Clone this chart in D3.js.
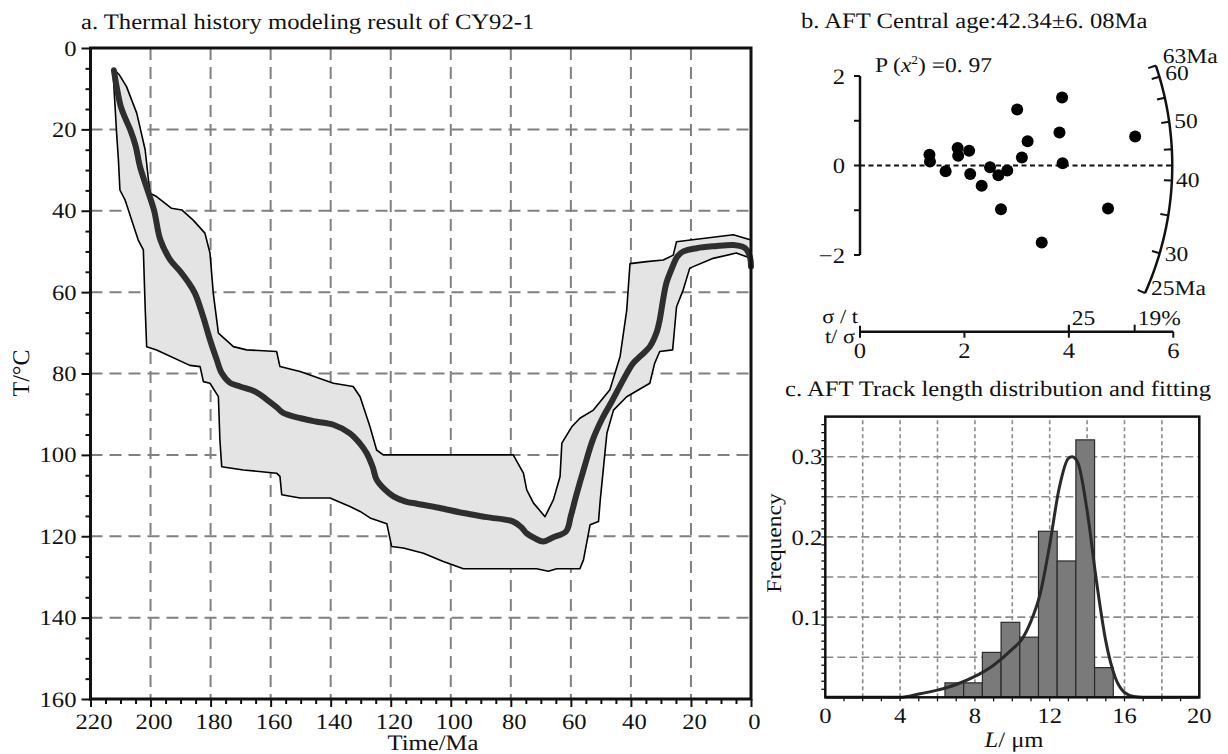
<!DOCTYPE html>
<html>
<head>
<meta charset="utf-8">
<script src="https://cdn.jsdelivr.net/npm/d3@7"></script>
<style>
  body { margin: 0; background: #fff; -webkit-font-smoothing: antialiased; }
  svg text { font-family: "Liberation Serif", "Times New Roman", serif; fill: #111; text-rendering: geometricPrecision; }
</style>
</head>
<body>
<svg id="fig" width="1228" height="754"></svg>
<script>
// ---------- a. thermal history (time in Ma, temperature in °C) ----------
const timeTicks = [220, 200, 180, 160, 140, 120, 100, 80, 60, 40, 20, 0];
const tempTicks = [0, 20, 40, 60, 80, 100, 120, 140, 160];

// best-fit path, oldest to youngest
const bestFit = [
  [212.2, 5.5], [211.3, 9.5], [209.9, 14.4], [208.3, 17.5], [206.8, 20], [205, 24],
  [203.5, 29.2], [201.2, 34.5], [198.8, 40], [196.8, 47], [193.5, 52], [190, 55],
  [187.5, 57.5], [185.2, 60.3], [182.5, 66], [180.2, 71.7], [178, 76.5], [176.3, 79.9],
  [173.5, 82.3], [170.2, 83.2], [165, 84.5], [161.3, 86.4], [158, 88.3], [155.8, 89.7],
  [150, 91], [145, 91.8], [139.1, 92.6], [133.6, 94.7], [130.5, 97], [128, 99.6],
  [126, 103], [124.7, 106.1], [122, 108.5], [119.1, 110.2], [115, 111.5], [111.3, 112],
  [104, 113], [95.8, 114.3], [88, 115.3], [79.2, 116.4], [76.5, 117.8], [74.7, 119.3],
  [72, 120.5], [69.2, 121.3], [66, 120.3], [61.6, 118.8], [60, 115], [58.3, 110.2],
  [55.5, 103], [52.7, 96.3], [49.5, 91], [46.1, 86.5], [42.5, 81.5], [39.3, 77.5],
  [36.5, 75.5], [33.7, 73.4], [31.5, 70], [30.4, 66.8], [29.2, 61.5], [28.2, 57.8],
  [26.1, 53.7], [24.5, 51.2], [22.5, 50], [18.1, 49.2], [12, 48.7], [5.9, 48.4],
  [3, 48.8], [1.4, 49.6], [0.3, 51.5], [0, 53.7]
];

// envelope of acceptable paths: cool edge and hot edge, oldest to youngest
const envelopeCool = [
  [212.5, 5], [210.5, 6.5], [208, 9.5], [204.6, 16], [201.8, 25], [200.2, 35.7],
  [198, 36.5], [193, 39.4], [189.6, 39.8], [185.8, 42.3], [181.9, 45.5], [180.2, 50.4],
  [179.1, 60.3], [177.4, 70.1], [172.4, 73.4], [168, 74.2], [158, 74.6], [156.9, 78.3],
  [150.2, 79.5], [139.1, 82.4], [132.5, 83.2], [130.2, 85.7], [126.9, 93.1], [124.7, 98.8],
  [122.5, 100], [79.2, 100], [75.8, 104.5], [74.7, 108.6], [72.5, 111.8], [68.6, 115.2],
  [65.8, 111], [63.6, 105.3], [63, 97.1], [59.7, 93.1], [57, 91], [52.5, 89], [47, 84],
  [43.6, 75.8], [41.4, 64.5], [40.3, 53], [34.8, 52.5], [29.2, 52.1], [25.9, 50.9],
  [24.8, 47.6], [18.1, 47], [5.9, 45.9], [0, 47.2]
];
const envelopeHot = [
  [212.5, 5], [212.4, 7], [211.3, 21], [210.7, 27.5], [210.2, 34.9], [208.5, 37.3],
  [206.3, 42.3], [204.1, 47.2], [202.4, 49.6], [201.8, 63.6], [201.3, 73.4], [198, 74.2],
  [186.9, 78], [183.5, 78.3], [182.4, 82], [180.2, 82.4], [177.4, 85.7], [176.9, 96.3],
  [176.3, 102.9], [169.1, 103.7], [158, 104.5], [156.9, 105.3], [156.3, 109.8],
  [150.2, 110.6], [140.2, 110.6], [133.6, 112.7], [130.2, 113.9], [126.9, 115.5],
  [121.3, 116.9], [119.7, 122.5], [115.8, 122.9], [109.1, 124.2], [102.5, 126.2],
  [95.8, 128], [71.4, 128], [67.5, 128.6], [64.7, 128], [57, 128], [55.8, 125.8],
  [53.6, 117.2], [50.8, 116.4], [50.2, 111], [48, 94.7], [45.8, 89], [41.4, 85.7],
  [33.7, 82.4], [32.1, 77.5], [30.4, 74.6], [26.1, 74.2], [24.8, 63.6], [22.6, 59.5],
  [20.4, 54.1], [12.6, 51.7], [4.9, 50.4], [0, 51.7]
];

// ---------- b. radial plot ----------
const centralAge = 42.34;
const centralAgeErr = "6. 08";
const pChi2 = "0. 97";
const precisionTicks = [0, 2, 4, 6];            // t/σ
const relErrTicks = [[4, "25"], [5.26, "19%"]];  // σ/t marks on the same axis
const zTicks = [-2, -1, 0, 1, 2];
const arcAges = [25, 30, 35, 40, 45, 50, 55, 60, 63];
const arcLabels = [[63, "63Ma"], [60, "60"], [50, "50"], [40, "40"], [30, "30"], [25, "25Ma"]];
// grains: precision (t/σ) and standardised estimate
const grainPrecision = [1.33, 1.34, 1.64, 1.87, 1.88, 2.09, 2.11, 2.33, 2.49, 2.65, 2.82,
                        2.70, 3.01, 3.10, 3.21, 3.48, 3.82, 3.87, 3.88, 4.75, 5.27];
const grainZ = [0.24, 0.09, -0.13, 0.39, 0.22, 0.33, -0.19, -0.45, -0.04, -0.22, -0.11,
                -0.98, 1.25, 0.18, 0.54, -1.72, 0.74, 1.52, 0.05, -0.96, 0.65];

// ---------- c. track length histogram ----------
const binStart = [6.4, 7.4, 8.4, 9.4, 10.4, 11.4, 12.4, 13.4, 14.4];
const binFreq = [0.018, 0.018, 0.056, 0.0935, 0.075, 0.207, 0.17, 0.321, 0.037];
const fitLength = [0, 4, 5, 6, 7, 8, 9, 10, 10.5, 11, 11.5, 12, 12.5, 13, 13.2, 13.5,
                   14, 14.5, 15, 15.5, 16, 16.5, 17, 20];
const fitFreq = [0, 0, 0.004, 0.009, 0.016, 0.026, 0.040, 0.060, 0.072, 0.095, 0.13, 0.19,
                 0.26, 0.298, 0.30, 0.293, 0.233, 0.145, 0.07, 0.025, 0.006, 0.001, 0, 0];
const lengthTicks = [0, 4, 8, 12, 16, 20];
const freqTicks = [0.1, 0.2, 0.3];

const svg = d3.select("#fig");

// ======================= panel a =======================
const xa = d3.scaleLinear().domain([220, 0]).range([90.5, 751]);
const ya = d3.scaleLinear().domain([0, 160]).range([48, 699]);
const gA = svg.append("g");

// dashed grid
gA.selectAll("line.vg").data(timeTicks.filter(t => t !== 220 && t !== 0)).join("line")
  .attr("x1", d => xa(d)).attr("x2", d => xa(d)).attr("y1", ya(0)).attr("y2", ya(160))
  .attr("stroke", "#808080").attr("stroke-width", 2).attr("stroke-dasharray", "12,7");
gA.selectAll("line.hg").data(tempTicks.filter(t => t !== 0 && t !== 160)).join("line")
  .attr("x1", xa(220)).attr("x2", xa(0)).attr("y1", d => ya(d)).attr("y2", d => ya(d))
  .attr("stroke", "#808080").attr("stroke-width", 2).attr("stroke-dasharray", "12,7");

// envelope polygon
const lineA = d3.line().x(d => xa(d[0])).y(d => ya(d[1]));
const envelope = envelopeCool.concat(envelopeHot.slice().reverse());
gA.append("path").attr("d", lineA(envelope) + "Z")
  .attr("fill", "#e4e4e4").attr("stroke", "#000").attr("stroke-width", 1.6)
  .attr("stroke-linejoin", "round");

// best-fit path
gA.append("path").attr("d", d3.line().x(d => xa(d[0])).y(d => ya(d[1])).curve(d3.curveCatmullRom)(bestFit))
  .attr("fill", "none").attr("stroke", "#2e2e2e").attr("stroke-width", 6)
  .attr("stroke-linejoin", "round").attr("stroke-linecap", "round");

// axes
const minorTime = d3.range(215, 0, -5).filter(v => v % 20 !== 0);
const minorTemp = d3.range(5, 160, 5).filter(v => v % 20 !== 0);
const axL = gA.append("g").attr("transform", `translate(${xa(220)},0)`)
  .call(d3.axisLeft(ya).tickValues(tempTicks).tickSize(9).tickPadding(5).tickFormat(d3.format("d")));
const axLm = gA.append("g").attr("transform", `translate(${xa(220)},0)`)
  .call(d3.axisLeft(ya).tickValues(minorTemp).tickSize(5).tickFormat(""));
const axB = gA.append("g").attr("transform", `translate(0,${ya(160)})`)
  .call(d3.axisBottom(xa).tickValues(timeTicks).tickSize(8).tickPadding(6).tickFormat(d3.format("d")));
const axBm = gA.append("g").attr("transform", `translate(0,${ya(160)})`)
  .call(d3.axisBottom(xa).tickValues(minorTime).tickSize(5).tickFormat(""));
[axL, axLm, axB, axBm].forEach(a => {
  a.select(".domain").remove();
  a.selectAll("line").attr("stroke", "#111").attr("stroke-width", 2);
  a.selectAll("text").style("font-size", "22px").attr("fill", "#111")
    .style("font-family", '"Liberation Serif", serif');
});
axB.selectAll("text").attr("dx", 3);

gA.append("rect").attr("x", xa(220)).attr("y", ya(0))
  .attr("width", xa(0) - xa(220)).attr("height", ya(160) - ya(0))
  .attr("fill", "none").attr("stroke", "#111").attr("stroke-width", 3);

gA.append("text").attr("x", 81).attr("y", 29).style("font-size", "22px")
  .text("a. Thermal history modeling result of CY92-1");
gA.append("text").attr("class", "nostretch").attr("transform", "translate(29,373) rotate(-90)")
  .attr("text-anchor", "middle").style("font-size", "24px").attr("fill", "#111").text("T/°C");
gA.append("text").attr("x", 433).attr("y", 750).attr("text-anchor", "middle")
  .style("font-size", "22px").text("Time/Ma");

// ======================= panel b =======================
const xb = d3.scaleLinear().domain([0, 6]).range([860, 1173.3]);
const yb = d3.scaleLinear().domain([-2, 2]).range([255, 76]);
const gB = svg.append("g");
const ox = xb(0), oy = yb(0);
const R = xb(5.98) - xb(0);
const arcK = 0.85;
const angleOf = age => Math.atan(arcK * Math.log(age / centralAge));
const arcX = (age, r) => ox + r * Math.cos(angleOf(age));
const arcY = (age, r) => oy - r * Math.sin(angleOf(age));

gB.append("text").attr("x", 801).attr("y", 28).style("font-size", "22px")
  .text(`b. AFT Central age:${centralAge}±${centralAgeErr}Ma`);

const pt = gB.append("text").attr("x", 875).attr("y", 72).style("font-size", "21px").attr("fill", "#333");
pt.append("tspan").text("P (");
pt.append("tspan").style("font-style", "italic").text("x");
pt.append("tspan").attr("dy", -8).style("font-size", "12px").text("2");
pt.append("tspan").attr("dy", 8).text(") =" + pChi2);

// z axis
gB.append("line").attr("x1", ox).attr("x2", ox).attr("y1", yb(2)).attr("y2", yb(-2))
  .attr("stroke", "#111").attr("stroke-width", 2.5);
gB.selectAll("line.zt").data(zTicks).join("line")
  .attr("x1", ox - 6).attr("x2", ox).attr("y1", d => yb(d)).attr("y2", d => yb(d))
  .attr("stroke", "#111").attr("stroke-width", 2);
gB.selectAll("text.zl").data([2, 0, -2]).join("text")
  .attr("x", ox - 15).attr("y", d => yb(d)).attr("dy", "0.35em").attr("text-anchor", "end")
  .style("font-size", "22px").text(d => d < 0 ? "−" + Math.abs(d) : d);

// reference line at the central age
gB.append("line").attr("x1", ox).attr("x2", arcX(centralAge, R))
  .attr("y1", oy).attr("y2", oy).attr("stroke", "#111").attr("stroke-width", 2)
  .attr("stroke-dasharray", "5,3.5");

// age arc
const arcSteps = d3.range(0, 81).map(i => 25 * Math.pow(63 / 25, i / 80));
gB.append("path").attr("d", d3.line()(arcSteps.map(a => [arcX(a, R), arcY(a, R)])))
  .attr("fill", "none").attr("stroke", "#111").attr("stroke-width", 2.5);
gB.selectAll("line.at").data(arcAges).join("line")
  .attr("x1", d => arcX(d, R)).attr("y1", d => arcY(d, R))
  .attr("x2", d => arcX(d, R - 8)).attr("y2", d => arcY(d, R - 8))
  .attr("stroke", "#111").attr("stroke-width", 2);
const labelNudge = { 63: [7, -10], 60: [6, -4], 50: [5, -1], 40: [4, -1], 30: [5, 0], 25: [6, -5] };
gB.selectAll("text.al").data(arcLabels).join("text")
  .attr("x", d => arcX(d[0], R) + labelNudge[d[0]][0])
  .attr("y", d => arcY(d[0], R) + labelNudge[d[0]][1])
  .attr("dy", "0.35em").style("font-size", "21px").text(d => d[1]);

// precision axis
const axY = 331.7;
gB.append("line").attr("x1", xb(0)).attr("x2", xb(6)).attr("y1", axY).attr("y2", axY)
  .attr("stroke", "#111").attr("stroke-width", 2.5);
gB.selectAll("line.pt").data(precisionTicks).join("line")
  .attr("x1", d => xb(d)).attr("x2", d => xb(d)).attr("y1", d => d === 0 || d === 4 ? axY - 6 : axY)
  .attr("y2", axY + 6).attr("stroke", "#111").attr("stroke-width", 2);
gB.selectAll("text.pl").data(precisionTicks).join("text")
  .attr("x", d => xb(d)).attr("y", axY + 26).attr("text-anchor", "middle")
  .style("font-size", "22px").text(d => d);
gB.selectAll("line.rt").data(relErrTicks).join("line")
  .attr("x1", d => xb(d[0])).attr("x2", d => xb(d[0])).attr("y1", axY - 7).attr("y2", axY)
  .attr("stroke", "#111").attr("stroke-width", 2);
gB.selectAll("text.rl").data(relErrTicks).join("text")
  .attr("x", d => xb(d[0]) + 3).attr("y", axY - 7).style("font-size", "21px").text(d => d[1]);
gB.append("text").attr("x", ox - 2).attr("y", axY - 9).attr("text-anchor", "end")
  .style("font-size", "20px").text("σ / t");
gB.append("text").attr("x", ox - 5).attr("y", axY + 11).attr("text-anchor", "end")
  .style("font-size", "20px").text("t/ σ");

// grains
gB.selectAll("circle").data(grainPrecision).join("circle")
  .attr("cx", d => xb(d)).attr("cy", (d, i) => yb(grainZ[i])).attr("r", 6).attr("fill", "#000");

// ======================= panel c =======================
const xc = d3.scaleLinear().domain([0, 20]).range([825.3, 1199.3]);
const yc = d3.scaleLinear().domain([0, 0.35]).range([697.3, 416.6]);
const gC = svg.append("g");

gC.append("text").attr("x", 785).attr("y", 396).style("font-size", "22px")
  .text("c. AFT Track length distribution and fitting");

gC.selectAll("line.vg").data(d3.range(2, 20, 2)).join("line")
  .attr("x1", d => xc(d)).attr("x2", d => xc(d)).attr("y1", yc(0)).attr("y2", yc(0.35))
  .attr("stroke", "#8a8a8a").attr("stroke-width", 1.6).attr("stroke-dasharray", "4,3");
gC.selectAll("line.hg").data(d3.range(0.05, 0.34, 0.05)).join("line")
  .attr("x1", xc(0)).attr("x2", xc(20)).attr("y1", d => yc(d)).attr("y2", d => yc(d))
  .attr("stroke", "#8a8a8a").attr("stroke-width", 1.6).attr("stroke-dasharray", "8,4");

gC.selectAll("rect.bar").data(binStart).join("rect")
  .attr("x", d => xc(d)).attr("width", d => xc(d + 1) - xc(d))
  .attr("y", (d, i) => yc(binFreq[i])).attr("height", (d, i) => yc(0) - yc(binFreq[i]))
  .attr("fill", "#7a7a7a").attr("stroke", "#2a2a2a").attr("stroke-width", 1.2);

const fitPts = fitLength.map((l, i) => [l, fitFreq[i]]);
gC.append("path").attr("d", d3.line().x(d => xc(d[0])).y(d => yc(d[1])).curve(d3.curveMonotoneX)(fitPts))
  .attr("fill", "none").attr("stroke", "#2a2a2a").attr("stroke-width", 3);

// minor ticks
gC.selectAll("line.ym").data(d3.range(0.01, 0.35, 0.01)).join("line")
  .attr("x1", xc(0) - 4).attr("x2", xc(0)).attr("y1", d => yc(d)).attr("y2", d => yc(d))
  .attr("stroke", "#111").attr("stroke-width", 1.3);
gC.selectAll("line.xm").data(d3.range(1, 20, 1)).join("line")
  .attr("x1", d => xc(d)).attr("x2", d => xc(d)).attr("y1", yc(0)).attr("y2", yc(0) + 4)
  .attr("stroke", "#111").attr("stroke-width", 1.3);

gC.append("rect").attr("x", xc(0)).attr("y", yc(0.35))
  .attr("width", xc(20) - xc(0)).attr("height", yc(0) - yc(0.35))
  .attr("fill", "none").attr("stroke", "#111").attr("stroke-width", 2.5);

gC.selectAll("text.xl").data(lengthTicks).join("text")
  .attr("x", d => xc(d)).attr("y", 723).attr("text-anchor", "middle")
  .style("font-size", "22px").text(d => d);
gC.selectAll("text.yl").data(freqTicks).join("text")
  .attr("x", xc(0) - 3).attr("y", d => yc(d)).attr("dy", "0.35em").attr("text-anchor", "end")
  .style("font-size", "22px").text(d => d3.format(".1f")(d));
gC.append("text").attr("transform", "translate(781,543) rotate(-90)")
  .attr("text-anchor", "middle").style("font-size", "21px").text("Frequency");
const xt = gC.append("text").attr("x", 1014).attr("y", 747).attr("text-anchor", "middle")
  .style("font-size", "22px");
xt.append("tspan").style("font-style", "italic").text("L");
xt.append("tspan").text("/ μm");

// the lettering of this figure is set slightly wide: stretch the labels horizontally
svg.selectAll("text:not(.nostretch)").each(function () {
  const w = this.getComputedTextLength();
  if (w > 0) {
    this.setAttribute("textLength", (w * 1.12).toFixed(1));
    this.setAttribute("lengthAdjust", "spacingAndGlyphs");
  }
});
</script>
</body>
</html>
